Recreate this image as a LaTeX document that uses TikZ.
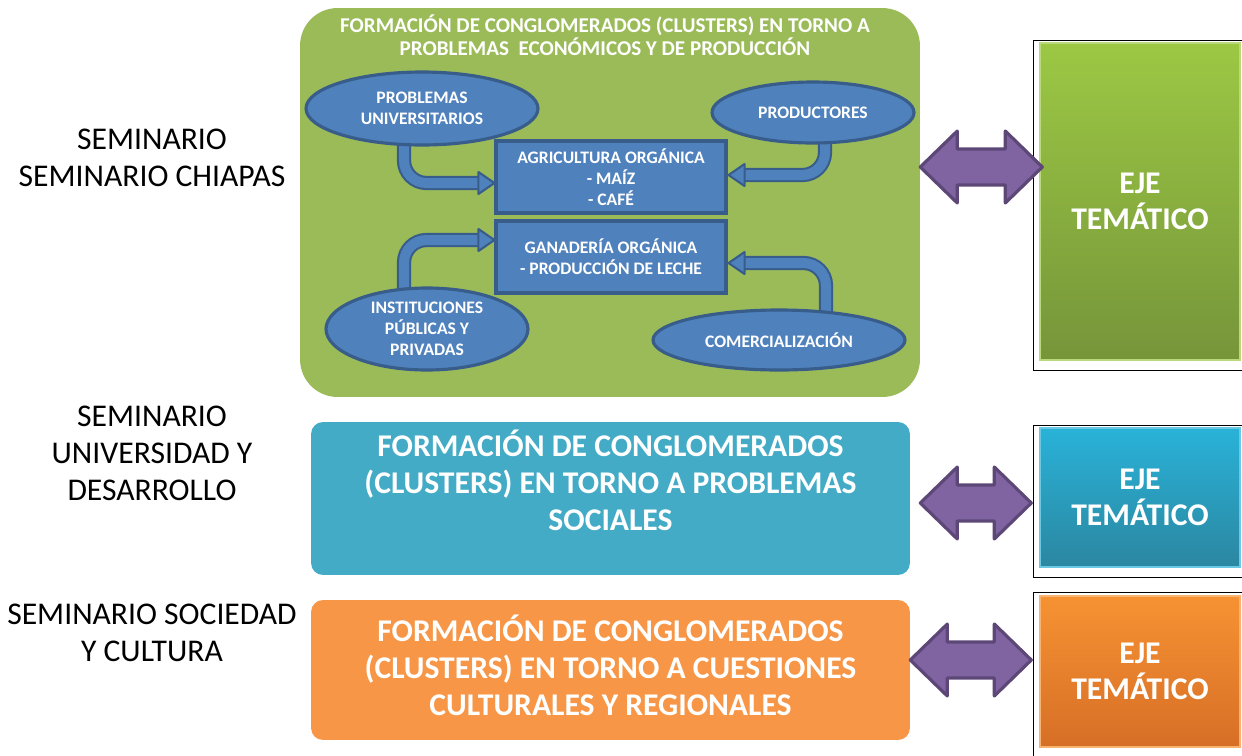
\documentclass[tikz,border=0pt]{standalone}
\usepackage{fontspec}
\setmainfont{Carlito}
\usepackage{tikz}
\usetikzlibrary{shapes.geometric, positioning, calc}

\definecolor{olgreen}{HTML}{9BBB59}
\definecolor{olblue}{HTML}{4F81BD}
\definecolor{olblueline}{HTML}{385D8A}
\definecolor{olteal}{HTML}{43ABC6}
\definecolor{olorange}{HTML}{F79646}
\definecolor{olpurple}{HTML}{8064A2}
\definecolor{olpurpleline}{HTML}{5C4776}
\definecolor{ejegreentop}{HTML}{9CC844}
\definecolor{ejegreenbot}{HTML}{76953A}
\definecolor{ejetealtop}{HTML}{29B2D8}
\definecolor{ejetealbot}{HTML}{2B87A1}
\definecolor{ejeorangetop}{HTML}{F79233}
\definecolor{ejeorangebot}{HTML}{D66F26}

\pgfdeclarelayer{bg}
\pgfdeclarelayer{mid}
\pgfsetlayers{bg,mid,main}

\begin{document}
\begin{tikzpicture}[
    x=0.02cm, y=-0.02cm,
    every node/.style={text=white, align=center, inner sep=0pt},
    panel/.style={rectangle, fill=olgreen, rounded corners=0.75cm, minimum width=12.4cm, minimum height=7.78cm},
    cluster/.style={rectangle, fill=#1, rounded corners=0.24cm, minimum width=11.98cm},
    bigtxt/.style={font=\bfseries\fontsize{18}{21}\selectfont},
    oval/.style={ellipse, draw=olblueline, fill=olblue, line width=1.8pt, font=\bfseries\fontsize{10}{12}\selectfont},
    crop/.style={rectangle, draw=olblueline, fill=olblue, line width=1.8pt, minimum width=4.6cm, minimum height=1.44cm, font=\bfseries\fontsize{10}{12}\selectfont},
    shaft/.style={draw=olblueline, double=olblue, double distance=0.2cm, line width=1.2pt, rounded corners=0.45cm},
    head/.style={draw=olblueline, fill=olblue, line width=1.2pt, line join=round},
    dblarrow/.style={draw=olpurpleline, fill=olpurple, line width=1.8pt, line join=round},
    eje/.style={rectangle, top color=#1top, bottom color=#1bot, draw=#1top!70!white, line width=0.8pt, minimum width=4cm, font=\bfseries\fontsize{18}{20.5}\selectfont},
    frame/.style={draw=black, line width=0.6pt},
    seminar/.style={text=black, font=\fontsize{18}{21}\selectfont}
]
\useasboundingbox (0,0) rectangle (1242,755);

% Seminarios
\node[seminar] (s1) at (152,157.5) {SEMINARIO\\SEMINARIO CHIAPAS};
\node[seminar] (s2) at (152,453) {SEMINARIO\\UNIVERSIDAD Y\\DESARROLLO};
\node[seminar] (s3) at (152,632.5) {SEMINARIO SOCIEDAD\\Y CULTURA};

% Cluster economico
\begin{pgfonlayer}{bg}
\node[panel] (green) at (610,202.5) {};
\end{pgfonlayer}
\node[font=\bfseries\fontsize{12}{13}\selectfont] (gtitle) at (605,35.5)
    {FORMACIÓN DE CONGLOMERADOS (CLUSTERS) EN TORNO A\\PROBLEMAS\ \ ECONÓMICOS Y DE PRODUCCIÓN};

\node[oval, minimum width=4.64cm, minimum height=1.46cm] (pu) at (422,108.5) {PROBLEMAS\\UNIVERSITARIOS};
\node[oval, minimum width=4.04cm, minimum height=1.22cm] (prod) at (813,112.5) {PRODUCTORES};
\node[oval, minimum width=4.04cm, minimum height=1.64cm] (inst) at (427,329) {INSTITUCIONES\\PÚBLICAS Y\\PRIVADAS};
\node[oval, minimum width=5.04cm, minimum height=1.2cm] (com) at (779,340) {COMERCIALIZACIÓN};

\node[crop] (agri) at (611,177) {AGRICULTURA ORGÁNICA\\- MAÍZ\\- CAFÉ};
\node[crop] (gana) at (611,257) {GANADERÍA ORGÁNICA\\- PRODUCCIÓN DE LECHE};

% Flechas curvas
\coordinate (t1) at ($(agri.west)+(0,6)$);
\coordinate (t2) at ($(agri.east)+(1,-2)$);
\coordinate (t3) at ($(gana.west)+(0,-17)$);
\coordinate (t4) at ($(gana.east)+(1,6)$);
\begin{pgfonlayer}{mid}
\draw[shaft] ($(pu.center)+(-18,27)$) |- ($(t1)+(-14,0)$);
\draw[shaft] ($(prod.center)+(12,22)$) |- ($(t2)+(14,0)$);
\draw[shaft] ($(inst.center)+(-23,-32)$) |- ($(t3)+(-14,0)$);
\draw[shaft] ($(com.center)+(47,-20)$) |- ($(t4)+(14,0)$);
\draw[head] (t1) -- ++(-16,-11) -- ++(0,22) -- cycle;
\draw[head] (t2) -- ++(16,-11) -- ++(0,22) -- cycle;
\draw[head] (t3) -- ++(-16,-11) -- ++(0,22) -- cycle;
\draw[head] (t4) -- ++(16,-11) -- ++(0,22) -- cycle;
\end{pgfonlayer}

% Clusters sociales y culturales
\node[cluster=olteal, minimum height=3.06cm] (teal) at (610.5,498.5) {};
\node[bigtxt] (ttxt) at ($(teal)+(0,-18)$)
    {FORMACIÓN DE CONGLOMERADOS\\(CLUSTERS) EN TORNO A PROBLEMAS\\SOCIALES};
\node[cluster=olorange, minimum height=2.8cm] (orange) at (610.5,670) {};
\node[bigtxt] (otxt) at ($(orange)+(0,-5)$)
    {FORMACIÓN DE CONGLOMERADOS\\(CLUSTERS) EN TORNO A CUESTIONES\\CULTURALES Y REGIONALES};

% Ejes tematicos
\node[eje=ejegreen, minimum height=6.34cm] (eje1) at (1140,201.5) {EJE\\TEMÁTICO};
\node[eje=ejeteal, minimum height=2.78cm] (eje2) at (1140,497.5) {EJE\\TEMÁTICO};
\node[eje=ejeorange, minimum height=3.02cm] (eje3) at (1140,671.5) {EJE\\TEMÁTICO};

\draw[frame] ($(eje1.north west)+(209,-2)$) -| ($(eje1.south west)+(-6,10)$) -- ++(215,0);
\draw[frame] ($(eje2.north west)+(209,-2)$) -| ($(eje2.south west)+(-6,10)$) -- ++(215,0);
\draw[frame] ($(eje3.north west)+(209,-3)$) -| ($(eje3.south west)+(-6,12)$);

% Flechas dobles
\foreach \a/\b/\dy/\dl/\dr in {green/eje1/-35.5/0/3, teal/eje2/4.5/10/-8, orange/eje3/-10/0/-8}{
    \coordinate (l) at ($(\a.east)+(\dl,\dy)$);
    \coordinate (r) at ($(\b.west |- l)+(\dr,0)$);
    \draw[dblarrow] (l) -- ++(37,-36) -- ++(0,18) -- ($(r)+(-37,-18)$) -- ++(0,-18) -- (r)
        -- ++(-37,36) -- ++(0,-18) -- ($(l)+(37,18)$) -- ++(0,18) -- cycle;
}

\end{tikzpicture}
\end{document}
